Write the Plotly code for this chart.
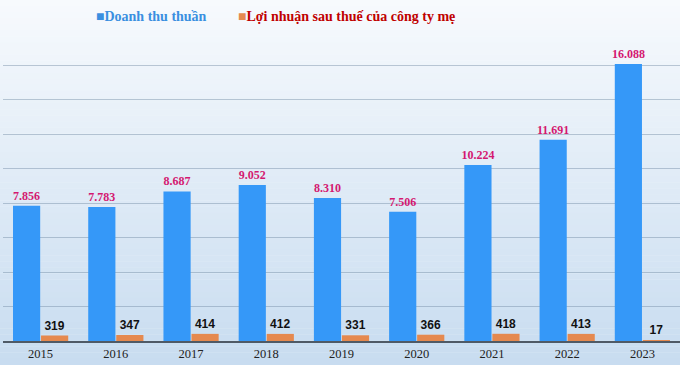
import plotly.graph_objects as go

years = ["2015", "2016", "2017", "2018", "2019", "2020", "2021", "2022", "2023"]
revenue = [7856, 7783, 8687, 9052, 8310, 7506, 10224, 11691, 16088]
profit = [319, 347, 414, 412, 331, 366, 418, 413, 17]
revenue_labels = ["7.856", "7.783", "8.687", "9.052", "8.310", "7.506", "10.224", "11.691", "16.088"]
profit_labels = ["319", "347", "414", "412", "331", "366", "418", "413", "17"]
series_names = ["Doanh thu thuần", "Lợi nhuận sau thuế của công ty mẹ"]

W, H = 680, 365
ML, MR, MT, MB = 3, 0, 31, 24
ph = H - MT - MB

fig = go.Figure()
fig.add_trace(go.Bar(
    x=years, y=revenue, name=series_names[0],
    marker=dict(color="#3598f8", line=dict(width=0)),
    text=revenue_labels, texttemplate="<b>%{text}</b>",
    textposition="outside", constraintext="none",
    textfont=dict(family="Liberation Serif", size=12, color="#d41870"),
    cliponaxis=False, showlegend=False,
))
fig.add_trace(go.Bar(
    x=years, y=profit, name=series_names[1],
    marker=dict(color="#e5894f", line=dict(width=0)),
    text=profit_labels, texttemplate="<b>%{text}</b>",
    textposition="outside", constraintext="none",
    textfont=dict(family="Liberation Sans", size=12, color="#111111"),
    cliponaxis=False, showlegend=False,
))

# background gradient
shapes = []
n = 60
top = (247, 250, 253)
bot = (200, 220, 240)
y0p = -MB / ph
y1p = 1 + MT / ph
for i in range(n):
    t = i / (n - 1)
    c = tuple(int(round(top[k] + (bot[k] - top[k]) * t)) for k in range(3))
    ya = y1p - (y1p - y0p) * i / n
    yb = y1p - (y1p - y0p) * (i + 1) / n
    shapes.append(dict(type="rect", xref="paper", yref="paper",
                       x0=-0.01, x1=1.01, y0=yb, y1=ya + 0.001,
                       fillcolor="rgb(%d,%d,%d)" % c, line=dict(width=0),
                       layer="below"))

pw = W - ML - MR
fig.update_layout(
    width=W, height=H,
    margin=dict(l=ML, r=MR, t=MT, b=MB),
    paper_bgcolor="rgb(247,250,253)",
    plot_bgcolor="rgba(0,0,0,0)",
    barmode="group", bargap=0.255, bargroupgap=0.03,
    shapes=shapes,
    xaxis=dict(showgrid=False, ticks="", showline=True, linecolor="#4f5a66", linewidth=2,
               tickfont=dict(family="Liberation Serif", size=12.5, color="#222222")),
    yaxis=dict(range=[0, 18000], dtick=2000, showticklabels=False, zeroline=False,
               gridcolor="rgba(115,140,165,0.45)", gridwidth=1),
    annotations=[
        dict(xref="paper", yref="paper", x=(94 - ML) / pw, y=1 + 15 / ph,
             xanchor="left", yanchor="middle", showarrow=False,
             text="<span style='color:#3a8fe0'>■</span><b>" + series_names[0] + "</b>",
             font=dict(family="Liberation Serif", size=14, color="#3a8fe0")),
        dict(xref="paper", yref="paper", x=(236 - ML) / pw, y=1 + 15 / ph,
             xanchor="left", yanchor="middle", showarrow=False,
             text="<span style='color:#e5894f'>■</span><b>" + series_names[1] + "</b>",
             font=dict(family="Liberation Serif", size=14, color="#c00000")),
    ],
)

fig.write_html("out.html", config={"displayModeBar": False},
               post_script="document.body.style.margin='0';")
